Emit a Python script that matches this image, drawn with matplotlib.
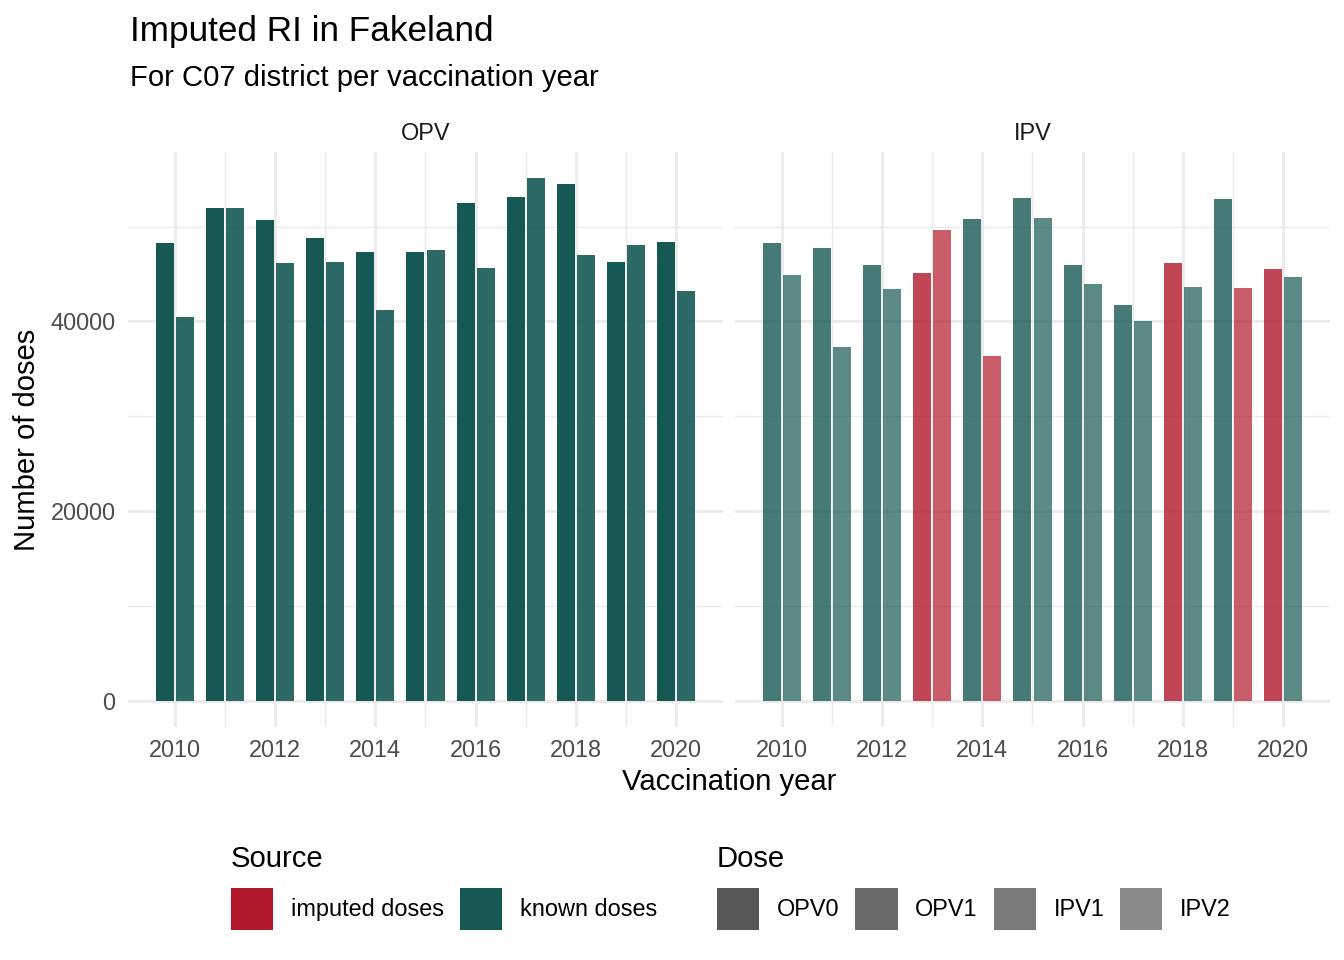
import numpy as np
import matplotlib.pyplot as plt
from matplotlib.patches import Patch

plt.rcParams['font.family'] = ['Liberation Sans', 'DejaVu Sans']

years = np.arange(2010, 2021)

# doses per year
opv0 = [48300, 51900, 50700, 48800, 47300, 47300, 52500, 53100, 54500, 46300, 48400]
opv1 = [40500, 51900, 46200, 46300, 41200, 47500, 45600, 55100, 47000, 48100, 43200]
ipv1 = [48300, 47700, 45900, 45100, 50800, 53000, 45900, 41700, 46200, 52900, 45500]
ipv2 = [44900, 37300, 43400, 49600, 36300, 50900, 43900, 40000, 43600, 43500, 44700]

# source of each bar: 'k' known, 'i' imputed
opv0_src = ['k'] * 11
opv1_src = ['k'] * 11
ipv1_src = ['k', 'k', 'k', 'i', 'k', 'k', 'k', 'k', 'i', 'k', 'i']
ipv2_src = ['k', 'k', 'k', 'i', 'i', 'k', 'k', 'k', 'k', 'i', 'k']

colors = {'i': '#b2182b', 'k': '#165954'}
alphas = {'OPV0': 1.0, 'OPV1': 0.9, 'IPV1': 0.8, 'IPV2': 0.7}

W, H = 1344, 960
fig = plt.figure(figsize=(W / 100, H / 100), dpi=100)

def fx(px):
    return px / W

def fy(px):
    return 1 - px / H

ymax = max(opv0 + opv1 + ipv1 + ipv2)
grid_col = '#ebebeb'

panels = [
    ('OPV', 128, [('OPV0', opv0, opv0_src), ('OPV1', opv1, opv1_src)]),
    ('IPV', 735, [('IPV1', ipv1, ipv1_src), ('IPV2', ipv2, ipv2_src)]),
]

axes = []
for name, left, doses in panels:
    ax = fig.add_axes([fx(left), fy(727), (723 - 128) / W, (727 - 152) / H])
    axes.append(ax)
    for k, (dose, vals, src) in enumerate(doses):
        off = -0.2 if k == 0 else 0.2
        ax.bar(years + off, vals, width=0.36,
               color=[colors[s] for s in src], alpha=alphas[dose],
               linewidth=0, zorder=3)
    span = 10.8
    ax.set_xlim(2009.6 - 0.05 * span, 2020.4 + 0.05 * span)
    ax.set_ylim(-0.05 * ymax, 1.05 * ymax)
    ax.set_xticks(np.arange(2010, 2021, 2))
    ax.set_xticks(np.arange(2011, 2020, 2), minor=True)
    ax.set_yticks([0, 20000, 40000])
    ax.set_yticks([10000, 30000, 50000], minor=True)
    ax.grid(True, which='major', color=grid_col, linewidth=2.05, zorder=0)
    ax.grid(True, which='minor', color=grid_col, linewidth=1.0, zorder=0)
    ax.tick_params(which='both', length=0, labelsize=16.9, labelcolor='#4d4d4d', pad=9)
    ax.tick_params(axis='x', pad=8.8)
    for sp in ax.spines.values():
        sp.set_visible(False)
    ax.set_title(name, fontsize=16.9, color='#1a1a1a', pad=9)

axes[1].tick_params(labelleft=False)

fig.text(fx(130), fy(41), 'Imputed RI in Fakeland', fontsize=25.3, va='baseline')
fig.text(fx(130), fy(86), 'For C07 district per vaccination year', fontsize=21.1, va='baseline')
fig.text(fx(729), fy(790), 'Vaccination year', fontsize=21.1, ha='center', va='baseline')
fig.text(fx(27), fy(440), 'Number of doses', fontsize=21.1, rotation=90, ha='center', va='center')

# legends
leg_kw = dict(frameon=False, fontsize=16.9, title_fontsize=21.1, loc='upper left',
              alignment='left', borderpad=0, borderaxespad=0,
              handlelength=1.8, handleheight=2.38, handletextpad=0.75,
              columnspacing=0.68, labelspacing=0.62)

src_handles = [Patch(color=colors['i'], linewidth=0), Patch(color=colors['k'], linewidth=0)]
fig.legend(src_handles, ['imputed doses', 'known doses'], title='Source',
           ncol=2, bbox_to_anchor=(fx(231), fy(845)), **leg_kw)

dose_handles = [Patch(color='#595959', alpha=alphas[d], linewidth=0) for d in alphas]
fig.legend(dose_handles, list(alphas), title='Dose',
           ncol=4, bbox_to_anchor=(fx(717), fy(845)), **leg_kw)

fig.savefig('out.png', dpi=100)
